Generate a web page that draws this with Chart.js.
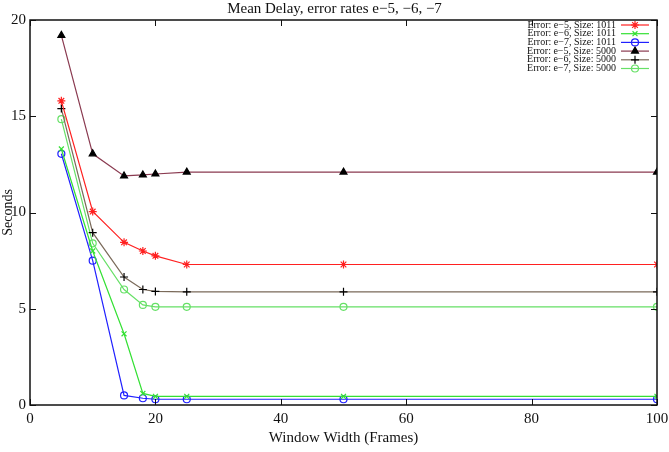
<!DOCTYPE html>
<html>
<head>
<meta charset="utf-8">
<script src="https://cdn.jsdelivr.net/npm/chart.js@4/dist/chart.umd.min.js"></script>
<style>
  body { margin: 0; background: #fff; }
  canvas { display: block; }
</style>
</head>
<body>
<canvas id="delayChart" width="669" height="452"></canvas>
<script>
const windowWidths = [5, 10, 15, 18, 20, 25, 50, 100];

const e5_1011 = [15.8, 10.05, 8.45, 8.0, 7.75, 7.3, 7.3, 7.3];
const e6_1011 = [13.3, 8.0, 3.7, 0.6, 0.45, 0.45, 0.45, 0.45];
const e7_1011 = [13.05, 7.5, 0.5, 0.35, 0.3, 0.3, 0.3, 0.3];
const e5_5000 = [19.2, 13.05, 11.9, 11.95, 12.0, 12.1, 12.1, 12.1];
const e6_5000 = [15.4, 8.95, 6.65, 6.0, 5.9, 5.88, 5.88, 5.88];
const e7_5000 = [14.85, 8.4, 6.0, 5.2, 5.1, 5.1, 5.1, 5.1];

const seriesLabels = [
  'Error: e\u22125, Size: 1011',
  'Error: e\u22126, Size: 1011',
  'Error: e\u22127, Size: 1011',
  'Error: e\u22125, Size: 5000',
  'Error: e\u22126, Size: 5000',
  'Error: e\u22127, Size: 5000'
];

const xTicks = [0, 20, 40, 60, 80, 100];
const yTicks = [0, 5, 10, 15, 20];

const FONT = "'Liberation Serif', 'Times New Roman', serif";

function toPoints(values) {
  return values.map((v, i) => ({ x: windowWidths[i], y: v }));
}

function makeSet(label, values, line, marker, style, radius, filled) {
  return {
    label: label,
    data: toPoints(values),
    borderColor: line,
    borderWidth: 1.2,
    pointStyle: style,
    pointRadius: radius,
    pointBorderColor: marker,
    pointBackgroundColor: filled ? marker : 'transparent',
    pointBorderWidth: 1.2,
    showLine: true,
    tension: 0
  };
}

const datasets = [
  makeSet(seriesLabels[0], e5_1011, '#ff2020', '#ff2020', 'star', 4, false),
  makeSet(seriesLabels[1], e6_1011, '#33e033', '#33e033', 'crossRot', 3.5, false),
  makeSet(seriesLabels[2], e7_1011, '#2020ff', '#2020ff', 'circle', 3.5, false),
  makeSet(seriesLabels[3], e5_5000, '#8a3a50', '#000000', 'triangle', 4, true),
  makeSet(seriesLabels[4], e6_5000, '#7a6a5a', '#000000', 'cross', 4, false),
  makeSet(seriesLabels[5], e7_5000, '#66e066', '#66e066', 'circle', 3.5, false)
];

// frame, inner ticks, title and legend in gnuplot style
const gnuplotDecor = {
  id: 'gnuplotDecor',
  afterDraw(chart) {
    const ctx = chart.ctx;
    const area = chart.chartArea;
    const xs = chart.scales.x;
    const ys = chart.scales.y;
    const tick = 6;

    ctx.save();
    ctx.strokeStyle = '#111';
    ctx.lineWidth = 1.5;
    ctx.strokeRect(area.left, area.top, area.right - area.left, area.bottom - area.top);

    ctx.lineWidth = 1;
    ctx.beginPath();
    xTicks.forEach(v => {
      const px = Math.round(xs.getPixelForValue(v)) + 0.5;
      ctx.moveTo(px, area.bottom); ctx.lineTo(px, area.bottom - tick);
      ctx.moveTo(px, area.top);    ctx.lineTo(px, area.top + tick);
    });
    yTicks.forEach(v => {
      const py = Math.round(ys.getPixelForValue(v)) + 0.5;
      ctx.moveTo(area.left, py);  ctx.lineTo(area.left + tick, py);
      ctx.moveTo(area.right, py); ctx.lineTo(area.right - tick, py);
    });
    ctx.stroke();

    ctx.fillStyle = '#111';
    ctx.font = '15px ' + FONT;
    ctx.textAlign = 'center';
    ctx.textBaseline = 'middle';
    ctx.fillText('Mean Delay, error rates e\u22125, \u22126, \u22127', chart.width / 2, 9);

    // legend, text left of the sample
    ctx.font = '10px ' + FONT;
    ctx.textAlign = 'right';
    chart.data.datasets.forEach((ds, i) => {
      const y = 25 + i * 8.7;
      ctx.fillStyle = '#111';
      ctx.fillText(ds.label, 616, y);
      ctx.strokeStyle = ds.borderColor;
      ctx.lineWidth = 1.2;
      ctx.beginPath();
      ctx.moveTo(621, y); ctx.lineTo(649, y);
      ctx.stroke();
      ctx.strokeStyle = ds.pointBorderColor;
      ctx.fillStyle = ds.pointBackgroundColor;
      Chart.helpers.drawPoint(ctx, {
        pointStyle: ds.pointStyle,
        radius: ds.pointRadius,
        rotation: 0,
        borderWidth: ds.pointBorderWidth
      }, 635, y);
    });
    ctx.restore();
  }
};

new Chart(document.getElementById('delayChart').getContext('2d'), {
  type: 'scatter',
  data: { datasets: datasets },
  options: {
    responsive: false,
    animation: false,
    devicePixelRatio: 1,
    layout: { padding: { top: 20, right: 12, left: 0, bottom: 0 } },
    plugins: {
      legend: { display: false },
      title: { display: false },
      tooltip: { enabled: false }
    },
    scales: {
      x: {
        type: 'linear',
        min: 0,
        max: 100,
        afterFit(scale) {
          scale.height = 47;
          scale.paddingLeft = 0;
          scale.paddingRight = 0;
        },
        afterBuildTicks(scale) { scale.ticks = xTicks.map(v => ({ value: v })); },
        grid: { display: false, drawTicks: false },
        border: { display: false },
        ticks: {
          padding: 5,
          color: '#111',
          font: { family: FONT, size: 15 }
        },
        title: {
          display: true,
          text: 'Window Width (Frames)',
          color: '#111',
          padding: { top: 0, bottom: 5 },
          font: { family: FONT, size: 15 }
        }
      },
      y: {
        min: 0,
        max: 20,
        afterFit(scale) {
          scale.width = 30;
          scale.paddingTop = 0;
          scale.paddingBottom = 0;
        },
        afterBuildTicks(scale) { scale.ticks = yTicks.map(v => ({ value: v })); },
        grid: { display: false, drawTicks: false },
        border: { display: false },
        ticks: {
          padding: 4,
          color: '#111',
          font: { family: FONT, size: 15 }
        },
        title: {
          display: true,
          text: 'Seconds',
          color: '#111',
          padding: 0,
          font: { family: FONT, size: 14 }
        }
      }
    }
  },
  plugins: [gnuplotDecor]
});
</script>
</body>
</html>
